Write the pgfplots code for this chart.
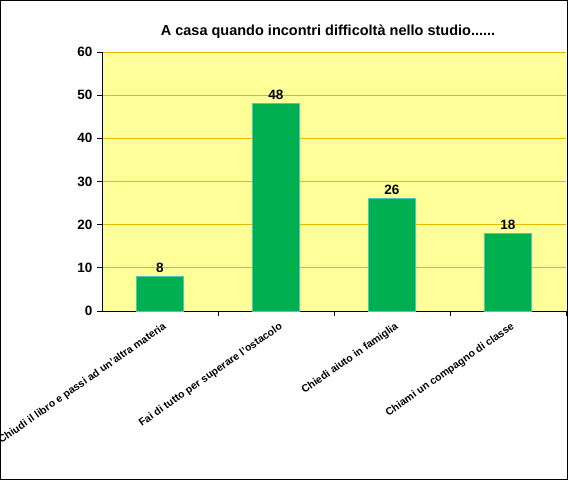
\documentclass[border=0pt]{standalone}
\usepackage{pgfplots}
\pgfplotsset{compat=1.18}
\usepackage{fontspec}
\setmainfont{Liberation Sans}
\definecolor{plotbg}{HTML}{FFFF99}
\definecolor{bargreen}{HTML}{00B050}
\definecolor{baredge}{HTML}{4FC8B8}
\definecolor{gridgold}{HTML}{E6B800}
\begin{document}
\begin{tikzpicture}[x=1pt,y=1pt]
  \clip (0,0) rectangle (568,480);
  \fill[white] (0,0) rectangle (568,480);
  \begin{axis}[
    at={(102pt,169pt)}, anchor=south west,
    scale only axis, width=464pt, height=259pt,
    xmin=-0.5, xmax=3.5, ymin=0, ymax=60,
    axis background/.style={fill=plotbg},
    axis lines*=left,
    axis line style={black, line width=0.8pt},
    tick align=outside,
    major tick length=5pt,
    tick style={black, line width=0.8pt},
    ytick={0,10,...,60},
    ymajorgrids,
    grid style={gridgold, line width=0.8pt},
    xtick={0.5,1.5,2.5,3.5},
    xticklabels={},
    extra x ticks={0,1,2,3},
    extra x tick labels={Chiudi il libro e passi ad un'altra materia, Fai di tutto per superare l'ostacolo, Chiedi aiuto in famiglia, Chiami un compagno di classe},
    extra x tick style={major tick length=0pt, grid=none,
      xticklabel style={rotate=35, anchor=north east, inner sep=1pt,
        yshift=-9pt, xshift=-3pt,
        font=\bfseries\fontsize{10.5}{12}\selectfont}},
    yticklabel style={font=\bfseries\fontsize{13.5}{15}\selectfont, xshift=-1pt},
    /pgf/number format/assume math mode=true,
  ]
    \addplot[ybar, bar width=47pt, fill=bargreen, draw=baredge, line width=0.8pt,
      nodes near coords,
      nodes near coords style={black, font=\bfseries\fontsize{13.5}{15}\selectfont}]
      coordinates {(0,8) (1,48) (2,26) (3,18)};
  \end{axis}
  \node[font=\bfseries\fontsize{14.5}{17}\selectfont] at (328,448)
    {A casa quando incontri difficoltà nello studio......};
  \draw[black, line width=1pt] (0.5,0.5) rectangle (567.5,479.5);
\end{tikzpicture}
\end{document}
